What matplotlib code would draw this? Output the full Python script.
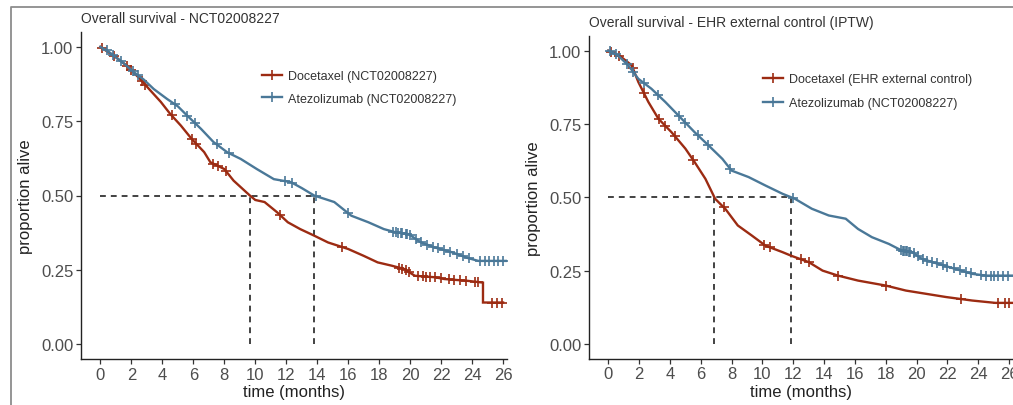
import numpy as np
import matplotlib
matplotlib.use("Agg")
import matplotlib.pyplot as plt
from matplotlib.lines import Line2D

plt.rcParams['font.family'] = ['Liberation Sans', 'DejaVu Sans']

RED = '#9C2B12'
BLUE = '#4A7898'
GREY_TXT = '#4D4D4D'

# ---- Panel 1: NCT02008227
left_doc_t = [0, 1.0, 1.7, 2.6, 3.2, 3.9, 4.5, 5.2, 5.9, 6.7, 7.1, 8.0, 8.6, 9.65, 10.0, 10.6,
              11.4, 12.1, 12.9, 13.8, 14.7, 16.0, 17.0, 17.9, 18.8, 19.6, 20.3, 21.6, 22.2,
              23.7, 24.7, 24.7, 26.0]
left_doc_s = [1.0, 0.965, 0.937, 0.89, 0.855, 0.815, 0.775, 0.735, 0.69, 0.646, 0.612, 0.589,
              0.55, 0.50, 0.485, 0.478, 0.444, 0.41, 0.387, 0.365, 0.342, 0.32, 0.297, 0.275,
              0.264, 0.253, 0.23, 0.225, 0.219, 0.213, 0.207, 0.14, 0.14]
left_doc_cens = [0.1, 0.9, 1.7, 2.0, 2.7, 2.9, 4.6, 5.9, 6.2, 7.3, 7.6, 8.1, 11.6, 15.6, 19.3,
                 19.5, 19.7, 19.9, 20.5, 20.8, 21.0, 21.3, 21.6, 22.0, 22.5, 22.8, 23.2, 23.6,
                 24.2, 24.4, 25.3, 25.6, 25.9]

left_ate_t = [0, 0.5, 1.0, 1.5, 2.16, 2.8, 3.45, 4.3, 5.0, 5.6, 6.5, 7.3, 8.2, 9.06, 10.1, 11.2,
              12.3, 13.0, 13.8, 15.1, 16.2, 17.3, 18.3, 19.0, 19.9, 20.7, 21.6, 22.7, 23.7,
              24.4, 26.2]
left_ate_s = [1.0, 0.985, 0.965, 0.945, 0.915, 0.89, 0.858, 0.825, 0.80, 0.769, 0.724, 0.68,
              0.645, 0.623, 0.589, 0.555, 0.545, 0.525, 0.50, 0.478, 0.432, 0.41, 0.387, 0.377,
              0.37, 0.342, 0.325, 0.309, 0.29, 0.28, 0.28]
left_ate_cens = [0.4, 0.8, 1.3, 2.1, 2.4, 4.8, 5.6, 6.1, 7.5, 8.3, 11.9, 12.4, 13.9, 16.0, 18.9,
                 19.1, 19.2, 19.4, 19.5, 19.7, 19.8, 20.0, 20.4, 20.7, 21.1, 21.5, 21.8, 22.2,
                 22.6, 23.0, 23.4, 23.8, 24.5, 24.8, 25.1, 25.4, 25.7, 26.0]

# ---- Panel 2: EHR external control (IPTW)
right_doc_t = [0, 0.8, 1.52, 1.95, 2.6, 3.25, 4.1, 5.0, 5.6, 6.3, 6.93, 7.6, 8.4, 9.3, 10.2,
               11.3, 11.9, 13.0, 13.9, 14.9, 16.2, 18.0, 19.3, 20.6, 21.9, 23.6, 25.1, 26.2]
right_doc_s = [1.0, 0.98, 0.95, 0.893, 0.825, 0.768, 0.722, 0.666, 0.62, 0.563, 0.495, 0.46,
               0.404, 0.37, 0.335, 0.313, 0.30, 0.279, 0.25, 0.233, 0.216, 0.199, 0.182, 0.171,
               0.16, 0.148, 0.14, 0.14]
right_doc_cens = [0.2, 0.7, 1.6, 2.3, 3.3, 3.7, 4.3, 5.5, 7.5, 10.1, 10.5, 12.5, 13.0, 14.9,
                  18.0, 22.9, 25.3, 25.7, 26.0]

right_ate_t = [0, 0.6, 1.3, 1.95, 2.8, 3.7, 4.55, 5.6, 6.5, 7.4, 8.0, 9.1, 10.2, 11.3, 12.1,
               13.2, 14.3, 15.4, 16.2, 17.1, 18.2, 19.05, 19.7, 20.35, 21.4, 22.5, 23.6, 24.5,
               26.2]
right_ate_s = [1.0, 0.985, 0.95, 0.904, 0.87, 0.825, 0.779, 0.722, 0.677, 0.631, 0.591, 0.569,
               0.54, 0.512, 0.495, 0.461, 0.438, 0.427, 0.392, 0.364, 0.341, 0.318, 0.313,
               0.29, 0.273, 0.256, 0.239, 0.233, 0.233]
right_ate_cens = [0.1, 0.5, 1.2, 1.6, 2.3, 3.2, 4.6, 5.0, 5.8, 6.5, 7.9, 12.0, 19.0, 19.1, 19.2,
                  19.3, 19.4, 19.5, 19.6, 19.8, 20.1, 20.4, 20.7, 21.0, 21.3, 21.7, 22.0, 22.4,
                  22.8, 23.2, 23.5, 24.2, 24.5, 24.8, 25.0, 25.3, 25.6, 25.9]

x_ticks = list(range(0, 27, 2))
y_ticks = [0.0, 0.25, 0.5, 0.75, 1.0]
y_ticklabels = ['0.00', '0.25', '0.50', '0.75', '1.00']

W, H = 1013, 406
fig = plt.figure(figsize=(W / 100, H / 100), dpi=100)


def px_rect(x0, y0, x1, y1):
    return [x0 / W, 1 - y1 / H, (x1 - x0) / W, (y1 - y0) / H]


def median_time(t, s):
    t = np.asarray(t)
    s = np.asarray(s)
    return np.interp(0.5, s[::-1], t[::-1])


def km_panel(ax, title, curves, legend_pos, legend_gap):
    for t, s, cens, color, label in curves:
        ax.plot(t, s, color=color, lw=1.7, solid_joinstyle='miter', zorder=3)
        cy = np.interp(cens, t, s)
        ax.plot(cens, cy, ls='none', marker='+', ms=7, mew=1.2, color=color, zorder=3)

    meds = [median_time(t, s) for t, s, _, _, _ in curves]
    ax.plot([0, max(meds)], [0.5, 0.5], color='#222222', lw=1.2, dashes=(3.5, 3), zorder=2)
    for m in meds:
        ax.plot([m, m], [0, 0.5], color='#222222', lw=1.2, dashes=(3.5, 3), zorder=2)

    ax.set_xlim(-1.25, 26.25)
    ax.set_ylim(-0.05, 1.05)
    ax.set_xticks(x_ticks)
    ax.set_yticks(y_ticks)
    ax.set_yticklabels(y_ticklabels)
    for sp in ['top', 'right']:
        ax.spines[sp].set_visible(False)
    for sp in ['left', 'bottom']:
        ax.spines[sp].set_linewidth(1.0)
        ax.spines[sp].set_color('#222222')
    ax.tick_params(length=3.5, width=0.9, color='#333333', labelsize=12,
                   labelcolor=GREY_TXT, pad=2)
    ax.set_xlabel('time (months)', fontsize=12, color='#222222', labelpad=2)
    ax.set_ylabel('proportion alive', fontsize=12, color='#222222', labelpad=6)
    ax.set_title(title, fontsize=10, color='#333333', loc='left', x=0.0, pad=7)

    handles = [Line2D([], [], color=c, lw=1.7, marker='+', ms=7, mew=1.2)
               for _, _, _, c, _ in curves]
    labels = [lab for _, _, _, _, lab in curves]
    ax.legend(handles, labels, loc='upper left', frameon=False, fontsize=9,
              bbox_to_anchor=(legend_pos[0] / W, 1 - legend_pos[1] / H),
              bbox_transform=fig.transFigure, borderpad=0, borderaxespad=0,
              handlelength=1.6, handletextpad=0.45, labelspacing=legend_gap,
              labelcolor='#333333')


ax1 = fig.add_axes(px_rect(81, 33, 507, 360))
km_panel(ax1, 'Overall survival - NCT02008227',
         [(left_doc_t, left_doc_s, left_doc_cens, RED, 'Docetaxel (NCT02008227)'),
          (left_ate_t, left_ate_s, left_ate_cens, BLUE, 'Atezolizumab (NCT02008227)')],
         (262, 71), 0.85)

ax2 = fig.add_axes(px_rect(589, 37, 1013, 359.6))
km_panel(ax2, 'Overall survival - EHR external control (IPTW)',
         [(right_doc_t, right_doc_s, right_doc_cens, RED, 'Docetaxel (EHR external control)'),
          (right_ate_t, right_ate_s, right_ate_cens, BLUE, 'Atezolizumab (NCT02008227)')],
         (763, 74), 1.0)

# outer frame of the original figure (cropped on right and bottom)
fig.add_artist(Line2D([11 / W, 11 / W, 1.0], [0.0, 1 - 7.5 / H, 1 - 7.5 / H],
                      transform=fig.transFigure, color='#8c8c8c', lw=1.3))

fig.savefig('out.png', dpi=100)
